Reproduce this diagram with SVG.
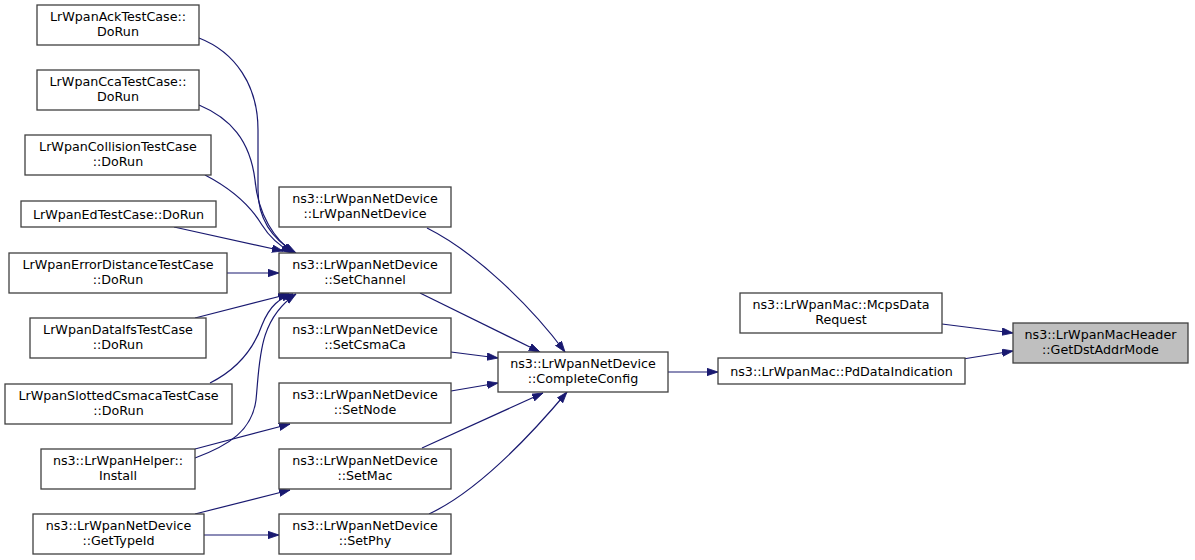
<svg xmlns="http://www.w3.org/2000/svg" width="1195" height="560" viewBox="0 0 1195 560">
<style>
.n rect{fill:#ffffff;stroke:#404040;stroke-width:1.3}
.n.hl rect{fill:#bfbfbf}
.n text{font-family:"DejaVu Sans",sans-serif;font-size:12.7px;fill:#000;text-anchor:middle}
.e path{fill:none;stroke:#191970;stroke-width:1.2}
</style>
<defs>
<marker id="ah" markerUnits="userSpaceOnUse" markerWidth="12" markerHeight="9" refX="11" refY="4" orient="auto">
<path d="M0,0.3 L11,4 L0,7.7 z" fill="#191970" stroke="#191970" stroke-width="0.8"/>
</marker>
</defs>
<rect width="1195" height="560" fill="#ffffff"/>
<g class="e" marker-end="url(#ah)">
<path marker-end="url(#ah)" d="M199,38 C235,52 258,85 258,130 L258,190 C258,222 275,241 296,253"/>
<path marker-end="url(#ah)" d="M199,105 C230,118 250,140 255,180 C258,215 275,240 294,253"/>
<path marker-end="url(#ah)" d="M205,175 C230,188 250,205 262,225 C270,238 280,246 292,253"/>
<path marker-end="url(#ah)" d="M174,227 L283,251"/>
<path marker-end="url(#ah)" d="M227,273 L279,273"/>
<path marker-end="url(#ah)" d="M195,318 L289,294"/>
<path marker-end="url(#ah)" d="M210,383 C240,368 255,345 262,325 C270,305 280,298 293,294"/>
<path marker-end="url(#ah)" d="M195,458 C230,445 252,430 256,400 C260,360 258,320 296,294"/>
<path marker-end="url(#ah)" d="M195,449 L290,424"/>
<path marker-end="url(#ah)" d="M195,514 L290,490"/>
<path marker-end="url(#ah)" d="M204,535 L279,535"/>
<path marker-end="url(#ah)" d="M427,228 C475,252 530,305 565,352"/>
<path marker-end="url(#ah)" d="M420,293 L540,352"/>
<path marker-end="url(#ah)" d="M451,352 L498,358"/>
<path marker-end="url(#ah)" d="M451,391 L498,383"/>
<path marker-end="url(#ah)" d="M422,448 L543,393"/>
<path marker-end="url(#ah)" d="M429,514 C480,490 535,430 567,392"/>
<path marker-end="url(#ah)" d="M668,372 L718,372"/>
<path marker-end="url(#ah)" d="M942,324 L1013,333"/>
<path marker-end="url(#ah)" d="M963,359 L1013,351"/>
</g>
<g id="n_ack" class="n"><rect x="37" y="5" width="162" height="40"/><text x="118" y="20.5">LrWpanAckTestCase::</text><text x="118" y="35.5">DoRun</text></g>
<g id="n_cca" class="n"><rect x="37" y="70" width="162" height="40"/><text x="118" y="85.5">LrWpanCcaTestCase::</text><text x="118" y="100.5">DoRun</text></g>
<g id="n_coll" class="n"><rect x="25" y="135" width="186" height="40"/><text x="118" y="150.5">LrWpanCollisionTestCase</text><text x="118" y="165.5">::DoRun</text></g>
<g id="n_ed" class="n"><rect x="21" y="201" width="195" height="26"/><text x="118.5" y="218.5">LrWpanEdTestCase::DoRun</text></g>
<g id="n_err" class="n"><rect x="9" y="253" width="218" height="40"/><text x="118" y="268.5">LrWpanErrorDistanceTestCase</text><text x="118" y="283.5">::DoRun</text></g>
<g id="n_ifs" class="n"><rect x="30" y="318" width="176" height="40"/><text x="118" y="333.5">LrWpanDataIfsTestCase</text><text x="118" y="348.5">::DoRun</text></g>
<g id="n_slot" class="n"><rect x="5" y="384" width="227" height="40"/><text x="118.5" y="399.5">LrWpanSlottedCsmacaTestCase</text><text x="118.5" y="414.5">::DoRun</text></g>
<g id="n_inst" class="n"><rect x="41" y="449" width="154" height="40"/><text x="118" y="464.5">ns3::LrWpanHelper::</text><text x="118" y="479.5">Install</text></g>
<g id="n_gti" class="n"><rect x="33" y="514" width="171" height="40"/><text x="118.5" y="529.5">ns3::LrWpanNetDevice</text><text x="118.5" y="544.5">::GetTypeId</text></g>
<g id="n_ctor" class="n"><rect x="279" y="187" width="172" height="40"/><text x="365" y="202.5">ns3::LrWpanNetDevice</text><text x="365" y="217.5">::LrWpanNetDevice</text></g>
<g id="n_chan" class="n"><rect x="279" y="253" width="172" height="40"/><text x="365" y="268.5">ns3::LrWpanNetDevice</text><text x="365" y="283.5">::SetChannel</text></g>
<g id="n_csma" class="n"><rect x="279" y="318" width="172" height="40"/><text x="365" y="333.5">ns3::LrWpanNetDevice</text><text x="365" y="348.5">::SetCsmaCa</text></g>
<g id="n_node" class="n"><rect x="279" y="383" width="172" height="40"/><text x="365" y="398.5">ns3::LrWpanNetDevice</text><text x="365" y="413.5">::SetNode</text></g>
<g id="n_mac" class="n"><rect x="279" y="449" width="172" height="40"/><text x="365" y="464.5">ns3::LrWpanNetDevice</text><text x="365" y="479.5">::SetMac</text></g>
<g id="n_phy" class="n"><rect x="279" y="514" width="172" height="40"/><text x="365" y="529.5">ns3::LrWpanNetDevice</text><text x="365" y="544.5">::SetPhy</text></g>
<g id="n_cc" class="n"><rect x="498" y="352" width="170" height="40"/><text x="583" y="367.5">ns3::LrWpanNetDevice</text><text x="583" y="382.5">::CompleteConfig</text></g>
<g id="n_mcps" class="n"><rect x="740" y="293" width="202" height="40"/><text x="841" y="308.5">ns3::LrWpanMac::McpsData</text><text x="841" y="323.5">Request</text></g>
<g id="n_pd" class="n"><rect x="718" y="358" width="247" height="26"/><text x="841.5" y="375.5">ns3::LrWpanMac::PdDataIndication</text></g>
<g id="n_get" class="n hl"><rect x="1013" y="323" width="175" height="40"/><text x="1100.5" y="338.5">ns3::LrWpanMacHeader</text><text x="1100.5" y="353.5">::GetDstAddrMode</text></g>
</svg>
